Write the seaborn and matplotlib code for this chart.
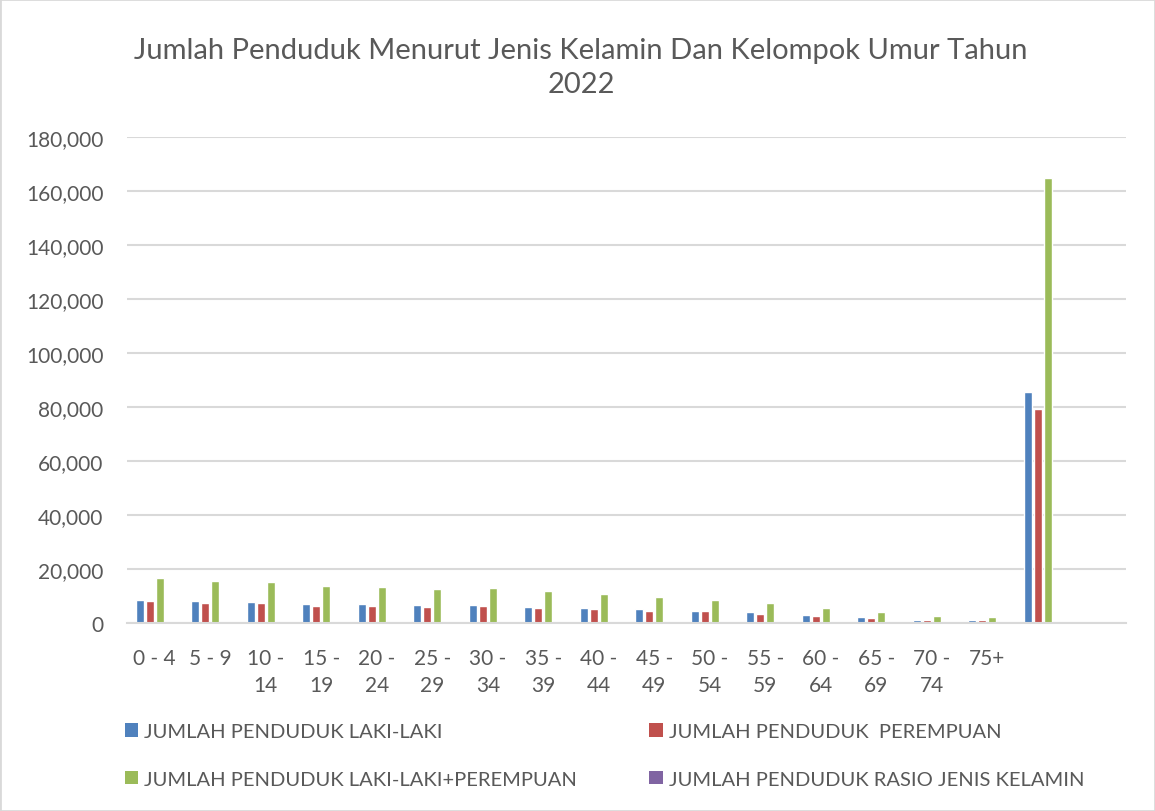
import numpy as np
import pandas as pd
import matplotlib
matplotlib.use("Agg")
import matplotlib.pyplot as plt
import matplotlib.patches as mpatches
from matplotlib.ticker import FuncFormatter
import seaborn as sns

# kelompok umur (two trailing blank categories as in the source sheet)
kelompok = ["0 - 4", "5 - 9", "10 - 14", "15 - 19", "20 - 24", "25 - 29", "30 - 34",
            "35 - 39", "40 - 44", "45 - 49", "50 - 54", "55 - 59", "60 - 64",
            "65 - 69", "70 - 74", "75+", "", " "]
tick_labels = ["0 - 4", "5 - 9", "10 -\n14", "15 -\n19", "20 -\n24", "25 -\n29", "30 -\n34",
               "35 -\n39", "40 -\n44", "45 -\n49", "50 -\n54", "55 -\n59", "60 -\n64",
               "65 -\n69", "70 -\n74", "75+", "", ""]

laki = [8400, 8200, 7800, 7100, 7100, 6700, 6700, 5900, 5600, 5100, 4300, 4000,
        3000, 2200, 1300, 1100, 85700, np.nan]
perempuan = [8100, 7500, 7500, 6400, 6200, 5900, 6300, 5600, 5200, 4500, 4300, 3500,
             2700, 2000, 1300, 1100, 79200, np.nan]
total = [16600, 15700, 15200, 13600, 13400, 12700, 13000, 11900, 10900, 9600, 8600, 7500,
         5700, 4200, 2700, 2300, 164900, np.nan]
rasio = [104, 109, 104, 111, 115, 114, 107, 105, 108, 114, 100, 115,
         112, 111, 100, 100, 108, np.nan]

series_names = ["JUMLAH PENDUDUK LAKI-LAKI", "JUMLAH PENDUDUK  PEREMPUAN",
                "JUMLAH PENDUDUK LAKI-LAKI+PEREMPUAN", "JUMLAH PENDUDUK RASIO JENIS KELAMIN"]
colors = ["#4F81BD", "#C0504D", "#9BBB59", "#8064A2"]

df = pd.DataFrame({"kelompok": kelompok, series_names[0]: laki, series_names[1]: perempuan,
                   series_names[2]: total, series_names[3]: rasio})
long_df = df.melt(id_vars="kelompok", var_name="seri", value_name="jumlah")

sns.set_theme(style="white")
plt.rcParams["font.family"] = ["Lato", "DejaVu Sans"]
text_color = "#595959"
grid_color = "#D9D9D9"

fig = plt.figure(figsize=(11.55, 8.12), dpi=100)
ax = fig.add_axes([0.110, 0.2315, 0.865, 0.5985])

sns.barplot(data=long_df, x="kelompok", y="jumlah", hue="seri", order=kelompok,
            hue_order=series_names, palette=colors, width=0.72, gap=0.2,
            saturation=1, ax=ax, legend=False, errorbar=None)

ax.set_ylim(0, 180000)
ax.set_xlim(-0.5, len(kelompok) - 0.5)
ax.set_yticks(np.arange(0, 180001, 20000))
ax.yaxis.set_major_formatter(FuncFormatter(lambda v, p: f"{int(v):,}"))
ax.set_xticks(range(len(kelompok)))
ax.set_xticklabels(tick_labels, linespacing=1.45)
ax.tick_params(axis="both", length=0, labelsize=15, labelcolor=text_color)
ax.tick_params(axis="y", pad=17)
ax.tick_params(axis="x", pad=18)
ax.set_xlabel("")
ax.set_ylabel("")

ax.yaxis.grid(True, color=grid_color, linewidth=1.5)
ax.set_axisbelow(True)
for side in ["left", "right", "top"]:
    ax.spines[side].set_visible(False)
ax.spines["bottom"].set_color(grid_color)
ax.spines["bottom"].set_linewidth(1.5)

fig.text(0.503, 0.916, "Jumlah Penduduk Menurut Jenis Kelamin Dan Kelompok Umur Tahun\n2022",
         ha="center", va="center", fontsize=21, color=text_color, linespacing=1.4)

handles = [mpatches.Patch(facecolor=c, edgecolor="none") for c in colors]
order = [0, 2, 1, 3]
fig.legend([handles[i] for i in order], [series_names[i] for i in order], ncol=2,
           loc="upper left", bbox_to_anchor=(0.108, 0.108), frameon=False, borderpad=0,
           borderaxespad=0, fontsize=14.5, labelcolor=text_color, handlelength=0.66,
           handleheight=0.66, handletextpad=0.3, columnspacing=3.6, labelspacing=1.5)

fig.add_artist(mpatches.Rectangle((0, 0), 1, 1, transform=fig.transFigure, fill=False,
                                  edgecolor=grid_color, linewidth=2))

fig.savefig("out.png", dpi=100)
